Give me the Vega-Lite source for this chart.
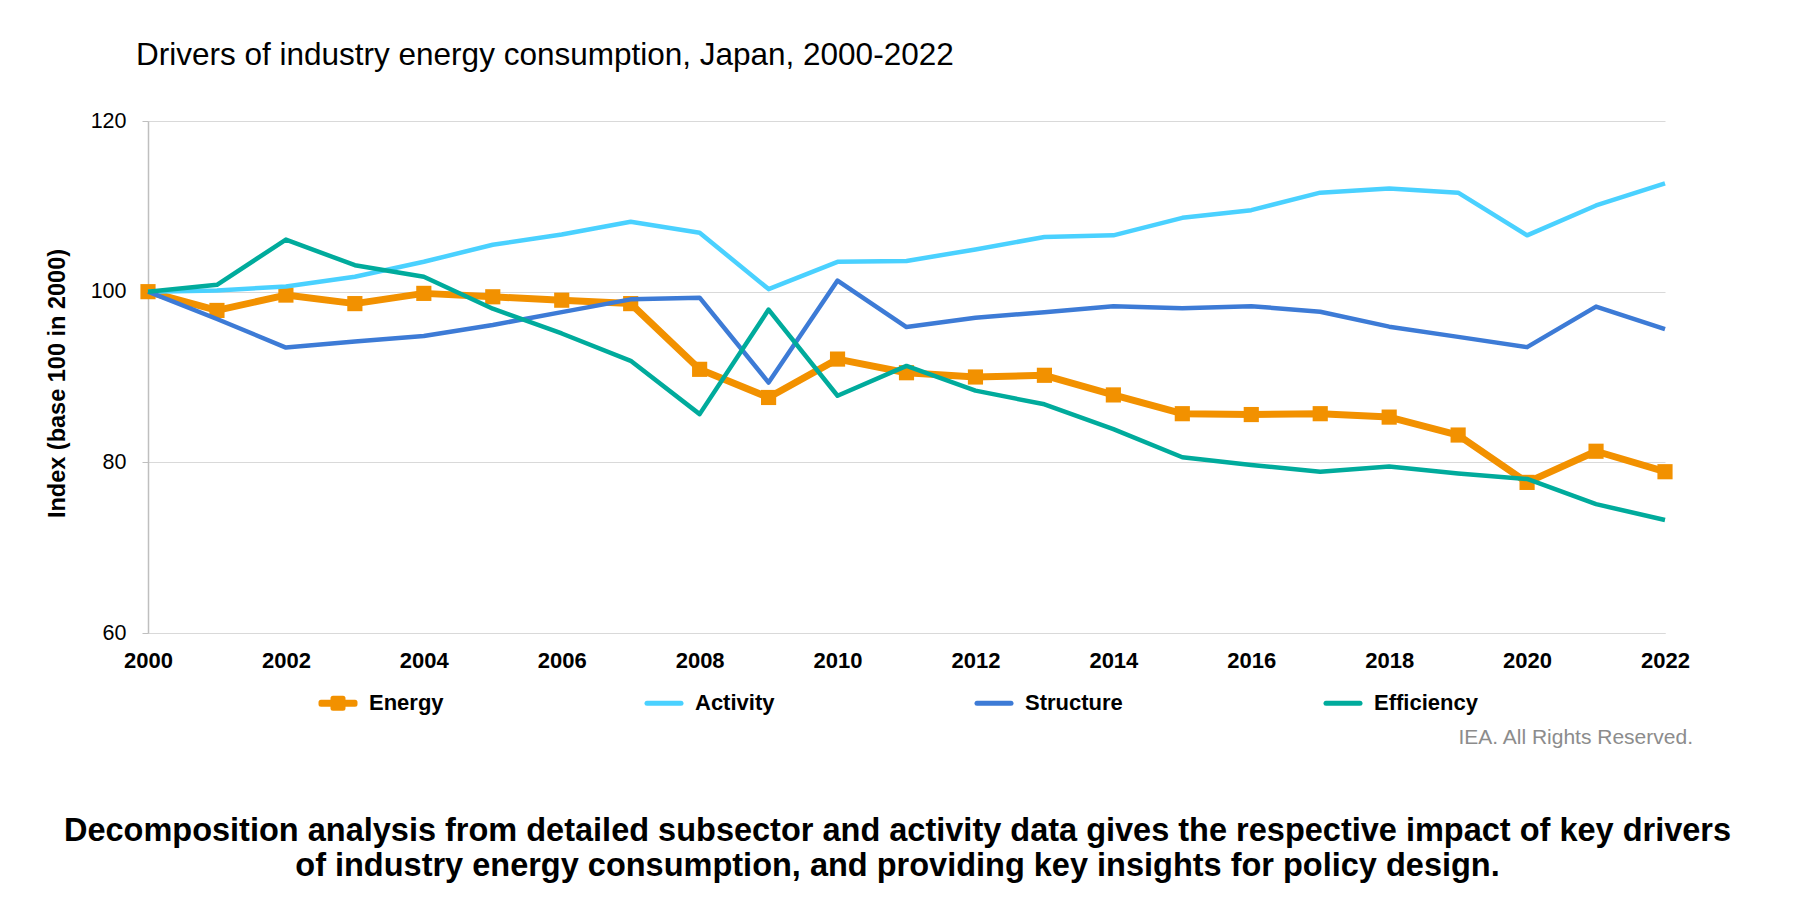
{
  "$schema": "https://vega.github.io/schema/vega-lite/v6.json",
  "width": 1517,
  "height": 512,
  "autosize": "none",
  "padding": {"left": 148, "top": 121, "right": 145, "bottom": 266},
  "background": "white",
  "title": {
    "text": "Drivers of industry energy consumption, Japan, 2000-2022",
    "anchor": "start",
    "frame": "group",
    "dx": -12,
    "offset": 39,
    "font": "Liberation Sans",
    "fontSize": 31.5,
    "fontWeight": "normal",
    "color": "#000000"
  },
  "data": {
    "values": [
      {"year": 2000, "series": "Energy", "value": 100},
      {"year": 2001, "series": "Energy", "value": 97.8},
      {"year": 2002, "series": "Energy", "value": 99.6},
      {"year": 2003, "series": "Energy", "value": 98.6},
      {"year": 2004, "series": "Energy", "value": 99.8},
      {"year": 2005, "series": "Energy", "value": 99.4},
      {"year": 2006, "series": "Energy", "value": 99.0},
      {"year": 2007, "series": "Energy", "value": 98.6},
      {"year": 2008, "series": "Energy", "value": 90.9},
      {"year": 2009, "series": "Energy", "value": 87.6},
      {"year": 2010, "series": "Energy", "value": 92.1},
      {"year": 2011, "series": "Energy", "value": 90.5},
      {"year": 2012, "series": "Energy", "value": 90.0},
      {"year": 2013, "series": "Energy", "value": 90.2},
      {"year": 2014, "series": "Energy", "value": 87.9},
      {"year": 2015, "series": "Energy", "value": 85.7},
      {"year": 2016, "series": "Energy", "value": 85.6},
      {"year": 2017, "series": "Energy", "value": 85.7},
      {"year": 2018, "series": "Energy", "value": 85.3},
      {"year": 2019, "series": "Energy", "value": 83.2},
      {"year": 2020, "series": "Energy", "value": 77.65},
      {"year": 2021, "series": "Energy", "value": 81.3},
      {"year": 2022, "series": "Energy", "value": 78.9},
      {"year": 2000, "series": "Activity", "value": 100},
      {"year": 2001, "series": "Activity", "value": 100.15},
      {"year": 2002, "series": "Activity", "value": 100.6},
      {"year": 2003, "series": "Activity", "value": 101.75},
      {"year": 2004, "series": "Activity", "value": 103.5},
      {"year": 2005, "series": "Activity", "value": 105.5},
      {"year": 2006, "series": "Activity", "value": 106.7},
      {"year": 2007, "series": "Activity", "value": 108.2},
      {"year": 2008, "series": "Activity", "value": 106.9},
      {"year": 2009, "series": "Activity", "value": 100.3},
      {"year": 2010, "series": "Activity", "value": 103.5},
      {"year": 2011, "series": "Activity", "value": 103.6},
      {"year": 2012, "series": "Activity", "value": 104.95},
      {"year": 2013, "series": "Activity", "value": 106.4},
      {"year": 2014, "series": "Activity", "value": 106.6},
      {"year": 2015, "series": "Activity", "value": 108.65},
      {"year": 2016, "series": "Activity", "value": 109.55},
      {"year": 2017, "series": "Activity", "value": 111.6},
      {"year": 2018, "series": "Activity", "value": 112.1},
      {"year": 2019, "series": "Activity", "value": 111.6},
      {"year": 2020, "series": "Activity", "value": 106.6},
      {"year": 2021, "series": "Activity", "value": 110.1},
      {"year": 2022, "series": "Activity", "value": 112.7},
      {"year": 2000, "series": "Structure", "value": 100},
      {"year": 2001, "series": "Structure", "value": 96.8},
      {"year": 2002, "series": "Structure", "value": 93.45},
      {"year": 2003, "series": "Structure", "value": 94.15},
      {"year": 2004, "series": "Structure", "value": 94.8},
      {"year": 2005, "series": "Structure", "value": 96.1},
      {"year": 2006, "series": "Structure", "value": 97.6},
      {"year": 2007, "series": "Structure", "value": 99.1},
      {"year": 2008, "series": "Structure", "value": 99.3},
      {"year": 2009, "series": "Structure", "value": 89.35},
      {"year": 2010, "series": "Structure", "value": 101.3},
      {"year": 2011, "series": "Structure", "value": 95.85},
      {"year": 2012, "series": "Structure", "value": 96.95},
      {"year": 2013, "series": "Structure", "value": 97.6},
      {"year": 2014, "series": "Structure", "value": 98.3},
      {"year": 2015, "series": "Structure", "value": 98.05},
      {"year": 2016, "series": "Structure", "value": 98.3},
      {"year": 2017, "series": "Structure", "value": 97.65},
      {"year": 2018, "series": "Structure", "value": 95.9},
      {"year": 2019, "series": "Structure", "value": 94.7},
      {"year": 2020, "series": "Structure", "value": 93.5},
      {"year": 2021, "series": "Structure", "value": 98.25},
      {"year": 2022, "series": "Structure", "value": 95.6},
      {"year": 2000, "series": "Efficiency", "value": 100},
      {"year": 2001, "series": "Efficiency", "value": 100.8},
      {"year": 2002, "series": "Efficiency", "value": 106.1},
      {"year": 2003, "series": "Efficiency", "value": 103.1},
      {"year": 2004, "series": "Efficiency", "value": 101.75},
      {"year": 2005, "series": "Efficiency", "value": 98.0},
      {"year": 2006, "series": "Efficiency", "value": 95.1},
      {"year": 2007, "series": "Efficiency", "value": 91.9},
      {"year": 2008, "series": "Efficiency", "value": 85.65},
      {"year": 2009, "series": "Efficiency", "value": 97.9},
      {"year": 2010, "series": "Efficiency", "value": 87.8},
      {"year": 2011, "series": "Efficiency", "value": 91.3},
      {"year": 2012, "series": "Efficiency", "value": 88.4},
      {"year": 2013, "series": "Efficiency", "value": 86.8},
      {"year": 2014, "series": "Efficiency", "value": 83.9},
      {"year": 2015, "series": "Efficiency", "value": 80.6},
      {"year": 2016, "series": "Efficiency", "value": 79.7},
      {"year": 2017, "series": "Efficiency", "value": 78.9},
      {"year": 2018, "series": "Efficiency", "value": 79.5},
      {"year": 2019, "series": "Efficiency", "value": 78.7},
      {"year": 2020, "series": "Efficiency", "value": 78.05},
      {"year": 2021, "series": "Efficiency", "value": 75.1},
      {"year": 2022, "series": "Efficiency", "value": 73.25},
      {"year": 2022, "series": "note", "value": 60, "note": "IEA. All Rights Reserved."}
    ]
  },
  "encoding": {
    "x": {
      "field": "year",
      "type": "quantitative",
      "scale": {"domain": [2000, 2022], "nice": false, "zero": false},
      "axis": {
        "values": [2000, 2002, 2004, 2006, 2008, 2010, 2012, 2014, 2016, 2018, 2020, 2022],
        "format": "d",
        "grid": false,
        "ticks": false,
        "tickSize": 0,
        "domainColor": "#D9D9D9",
        "domainWidth": 1,
        "labelFont": "Liberation Sans",
        "labelFontSize": 22,
        "labelFontWeight": "bold",
        "labelColor": "#000000",
        "labelPadding": 17,
        "labelFlush": false,
        "labelOverlap": false,
        "title": [
          "Decomposition analysis from detailed subsector and activity data gives the respective impact of key drivers",
          "of industry energy consumption, and providing key insights for policy design."
        ],
        "titleFont": "Liberation Sans",
        "titleFontSize": 32.5,
        "titleFontWeight": "bold",
        "titleColor": "#000000",
        "titleX": 749,
        "titleY": 207,
        "titleAlign": "center",
        "titleBaseline": "alphabetic",
        "titleLineHeight": 35
      }
    },
    "y": {
      "field": "value",
      "type": "quantitative",
      "scale": {"domain": [60, 120], "nice": false, "zero": false},
      "axis": {
        "values": [60, 80, 100, 120],
        "grid": true,
        "gridColor": "#D9D9D9",
        "gridWidth": 1,
        "domainColor": "#BFBFBF",
        "domainWidth": 1.5,
        "tickColor": "#BFBFBF",
        "tickSize": 6,
        "labelFont": "Liberation Sans",
        "labelFontSize": 21.5,
        "labelColor": "#000000",
        "labelPadding": 16,
        "title": "Index (base 100 in 2000)",
        "titleFont": "Liberation Sans",
        "titleFontSize": 23.5,
        "titleFontWeight": "bold",
        "titleColor": "#000000",
        "titleAngle": -90,
        "titleX": -91,
        "titleY": 262,
        "titleAlign": "center",
        "titleBaseline": "middle"
      }
    }
  },
  "layer": [
    {
      "transform": [{"filter": "datum.series === 'Energy'"}],
      "mark": {"type": "line", "strokeWidth": 7, "strokeJoin": "round"},
      "encoding": {
        "color": {
          "field": "series",
          "type": "nominal",
          "scale": {
            "domain": ["Energy", "Activity", "Structure", "Efficiency"],
            "range": ["#F29100", "#4AD1FF", "#3D7BD6", "#00AB9C"]
          },
          "legend": {
            "title": null,
            "orient": "none",
            "direction": "horizontal",
            "columns": 4,
            "legendX": 167.5,
            "legendY": 559.5,
            "padding": 0,
            "columnPadding": 197,
            "symbolSize": 1600,
            "symbolStrokeWidth": 5,
            "labelOffset": 8.5,
            "labelFont": "Liberation Sans",
            "labelFontSize": 22,
            "labelFontWeight": "bold",
            "labelColor": "#000000",
            "labelBaseline": "middle",
            "labelLimit": 400,
            "encode": {
              "symbols": {
                "update": {
                  "shape": {"signal": "datum.value === 'Energy' ? 'M-0.85,-0.05L-0.25,-0.05L-0.25,-0.25L0.25,-0.25L0.25,-0.05L0.85,-0.05L0.85,0.05L0.25,0.05L0.25,0.25L-0.25,0.25L-0.25,0.05L-0.85,0.05Z' : 'M-0.85,0L0.85,0'"},
                  "strokeWidth": {"value": 5},
                  "strokeCap": {"value": "round"},
                  "strokeJoin": {"value": "round"},
                  "fill": {"signal": "scale('color', datum.value)"},
                  "stroke": {"signal": "scale('color', datum.value)"},
                  "opacity": {"value": 1}
                }
              }
            }
          }
        }
      }
    },
    {
      "transform": [{"filter": "datum.series === 'Energy'"}],
      "mark": {"type": "point", "shape": "square", "filled": true, "size": 230, "opacity": 1, "color": "#F29100"}
    },
    {
      "transform": [{"filter": "datum.series === 'Activity' || datum.series === 'Structure' || datum.series === 'Efficiency'"}],
      "mark": {"type": "line", "strokeWidth": 4.5, "strokeJoin": "round"},
      "encoding": {
        "color": {"field": "series", "type": "nominal"}
      }
    },
    {
      "transform": [{"filter": "datum.series === 'note'"}],
      "mark": {
        "type": "text",
        "align": "right",
        "baseline": "middle",
        "dx": 28,
        "dy": 105,
        "font": "Liberation Sans",
        "fontSize": 21,
        "fill": "#8C8C8C"
      },
      "encoding": {
        "text": {"field": "note", "type": "nominal"}
      }
    }
  ],
  "config": {
    "view": {"stroke": null},
    "font": "Liberation Sans"
  }
}
